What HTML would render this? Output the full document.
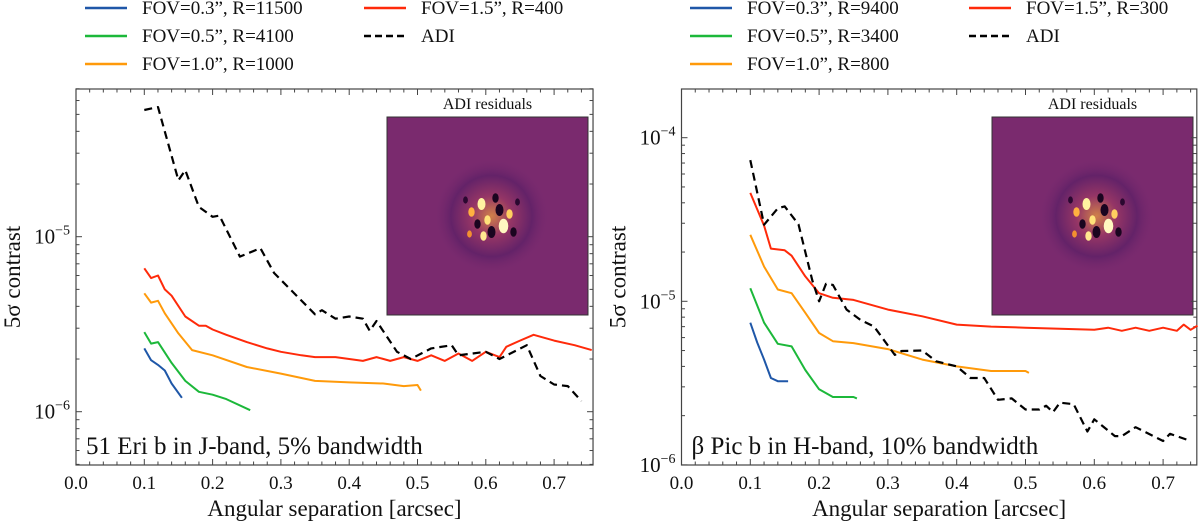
<!DOCTYPE html>
<html><head><meta charset="utf-8">
<style>
html,body{margin:0;padding:0;background:#fff;}
svg, svg text{font-family:"Liberation Serif","DejaVu Serif",serif;}
</style></head>
<body>
<svg id="fig" width="1200" height="523" viewBox="0 0 1200 523" xmlns="http://www.w3.org/2000/svg" font-family="Liberation Serif, DejaVu Serif, serif">
<defs>
<radialGradient id="glow" cx="50%" cy="50%" r="50%">
<stop offset="0%" stop-color="#f4a53a"/>
<stop offset="35%" stop-color="#a03a62"/>
<stop offset="70%" stop-color="#5a1f66"/>
<stop offset="100%" stop-color="#7a2a6e" stop-opacity="0"/>
</radialGradient>
</defs>
</svg>
<script>
// ---- Left panel data (51 Eri b) ----
const L_adi_x = [0.1,0.12,0.15,0.16,0.18,0.2,0.21,0.24,0.27,0.29,0.35,0.36,0.38,0.4,0.42,0.43,0.44,0.47,0.49,0.52,0.55,0.56,0.6,0.62,0.66,0.68,0.7,0.72,0.74];
const L_adi_y = [5.3e-5,5.5e-5,2.1e-5,2.4e-5,1.48e-5,1.3e-5,1.32e-5,7.7e-6,8.6e-6,6.2e-6,3.6e-6,3.8e-6,3.4e-6,3.5e-6,3.4e-6,2.9e-6,3.3e-6,2.2e-6,2.0e-6,2.3e-6,2.4e-6,2.1e-6,2.2e-6,2.0e-6,2.4e-6,1.6e-6,1.43e-6,1.4e-6,1.15e-6];
const L_red_x = [0.1,0.11,0.12,0.13,0.14,0.16,0.18,0.19,0.2,0.22,0.25,0.28,0.3,0.33,0.35,0.38,0.4,0.42,0.44,0.46,0.48,0.5,0.52,0.54,0.56,0.58,0.6,0.62,0.63,0.65,0.67,0.7,0.73,0.755];
const L_red_y = [6.6e-6,5.8e-6,6.0e-6,5.0e-6,4.6e-6,3.5e-6,3.1e-6,3.1e-6,2.95e-6,2.75e-6,2.5e-6,2.3e-6,2.2e-6,2.1e-6,2.05e-6,2.05e-6,2.0e-6,1.95e-6,2.05e-6,1.95e-6,2.05e-6,1.95e-6,2.1e-6,1.95e-6,2.15e-6,1.95e-6,2.2e-6,2.05e-6,2.35e-6,2.55e-6,2.75e-6,2.55e-6,2.4e-6,2.25e-6];
const L_org_x = [0.1,0.11,0.12,0.13,0.15,0.17,0.2,0.25,0.3,0.35,0.4,0.45,0.48,0.5,0.505];
const L_org_y = [4.75e-6,4.2e-6,4.3e-6,3.65e-6,2.8e-6,2.25e-6,2.1e-6,1.8e-6,1.65e-6,1.5e-6,1.47e-6,1.45e-6,1.4e-6,1.42e-6,1.32e-6];
const L_grn_x = [0.1,0.11,0.12,0.14,0.16,0.18,0.2,0.22,0.255];
const L_grn_y = [2.85e-6,2.45e-6,2.5e-6,1.9e-6,1.5e-6,1.3e-6,1.25e-6,1.18e-6,1.02e-6];
const L_blu_x = [0.1,0.11,0.12,0.13,0.14,0.155];
const L_blu_y = [2.3e-6,1.97e-6,1.85e-6,1.72e-6,1.45e-6,1.2e-6];
// ---- Right panel data (beta Pic b) ----
const R_adi_x = [0.1,0.12,0.14,0.15,0.17,0.19,0.2,0.21,0.22,0.24,0.26,0.28,0.31,0.32,0.35,0.37,0.4,0.42,0.44,0.46,0.48,0.5,0.52,0.53,0.54,0.55,0.57,0.59,0.6,0.63,0.64,0.66,0.7,0.71,0.74];
const R_adi_y = [7.3e-5,2.94e-5,3.7e-5,3.8e-5,2.95e-5,1.35e-5,1.0e-5,1.28e-5,1.26e-5,8.9e-6,7.7e-6,7.0e-6,4.7e-6,4.97e-6,5.0e-6,4.3e-6,4.0e-6,3.4e-6,3.4e-6,2.5e-6,2.55e-6,2.18e-6,2.18e-6,2.3e-6,2.1e-6,2.4e-6,2.35e-6,1.6e-6,1.9e-6,1.5e-6,1.5e-6,1.7e-6,1.4e-6,1.55e-6,1.4e-6];
const R_red_x = [0.1,0.12,0.13,0.15,0.16,0.18,0.2,0.22,0.25,0.3,0.35,0.4,0.45,0.5,0.55,0.6,0.62,0.64,0.66,0.68,0.7,0.72,0.73,0.74,0.75];
const R_red_y = [4.6e-5,2.9e-5,2.1e-5,2.05e-5,1.9e-5,1.42e-5,1.12e-5,1.05e-5,1.02e-5,8.9e-6,8.1e-6,7.2e-6,7.0e-6,6.9e-6,6.8e-6,6.7e-6,6.9e-6,6.6e-6,6.9e-6,6.6e-6,6.9e-6,6.6e-6,7.2e-6,6.7e-6,7.1e-6];
const R_org_x = [0.1,0.12,0.14,0.16,0.18,0.2,0.22,0.25,0.3,0.35,0.4,0.45,0.5,0.505];
const R_org_y = [2.55e-5,1.63e-5,1.18e-5,1.12e-5,8.5e-6,6.4e-6,5.7e-6,5.55e-6,5.1e-6,4.4e-6,4.0e-6,3.75e-6,3.75e-6,3.65e-6];
const R_grn_x = [0.1,0.12,0.14,0.16,0.18,0.2,0.22,0.25,0.255];
const R_grn_y = [1.2e-5,7.4e-6,5.5e-6,5.3e-6,3.8e-6,2.9e-6,2.6e-6,2.6e-6,2.55e-6];
const R_blu_x = [0.1,0.11,0.12,0.13,0.14,0.155];
const R_blu_y = [7.4e-6,5.6e-6,4.4e-6,3.4e-6,3.25e-6,3.25e-6];
const xTicks = [0.0,0.1,0.2,0.3,0.4,0.5,0.6,0.7];
const L_legend = ['FOV=0.3\u201d, R=11500','FOV=0.5\u201d, R=4100','FOV=1.0\u201d, R=1000','FOV=1.5\u201d, R=400','ADI'];
const R_legend = ['FOV=0.3\u201d, R=9400','FOV=0.5\u201d, R=3400','FOV=1.0\u201d, R=800','FOV=1.5\u201d, R=300','ADI'];

const NS='http://www.w3.org/2000/svg';
const FF='Liberation Serif, DejaVu Serif, serif';
const svg=document.getElementById('fig');
const COLORS=['#1f57a8','#1cb83a','#ff9a0a','#ff2a0a','#000'];
function mk(tag,attrs,parent){const e=document.createElementNS(NS,tag);for(const k in attrs)e.setAttribute(k,attrs[k]);if(tag==='text')e.setAttribute('font-family',FF);(parent||svg).appendChild(e);return e;}

function panel(p){
  const g=mk('g',{});
  
  
  const X=v=>p.x0+v*p.xs;
  const Y=v=>p.yRef-(Math.log10(v)-p.logRef)*p.dec;
  const lx=[p.legX,p.legX+279];
  const ly=[13,41,69];
  p.legend.forEach((t,i)=>{
    const col=i<3?0:1,row=i<3?i:i-3;
    const ln=mk('line',{x1:lx[col],x2:lx[col]+42,y1:ly[row]-5,y2:ly[row]-5,stroke:COLORS[i],'stroke-width':2.5,'stroke-dasharray':i===4?'7,4':'none'},g);
    
    
    const tx=mk('text',{x:lx[col]+57,y:ly[row]+1,'font-size':19,fill:'#111'},g);
    tx.textContent=t;
    
    
  });
  const ig=mk('g',{},g);
  
  
  const it=mk('text',{x:p.inset[0]+p.inset[2]/2,y:p.inset[1]-8,'font-size':16,'text-anchor':'middle',fill:'#111'},ig);
  it.textContent='ADI residuals';
  
  
  mk('rect',{x:p.inset[0],y:p.inset[1],width:p.inset[2],height:p.inset[3],fill:'#7a2a6e',stroke:'#333','stroke-width':1},ig);
  const cx=p.inset[0]+p.inset[2]/2+4,cy=p.inset[1]+p.inset[3]/2;
  mk('circle',{cx:cx,cy:cy,r:58,fill:'url(#glow)',opacity:0.7},ig);
  const spots=[[-10,-12,5,'#fff3a0'],[8,-6,5,'#1a0520'],[-4,4,4,'#ffe27a'],[12,10,6,'#fff8c0'],[-14,8,4,'#1a0520'],[4,-18,4,'#1a0520'],[18,-2,4,'#ffd060'],[-20,-4,4,'#ffb040'],[0,16,5,'#1a0520'],[-8,20,4,'#ffe890'],[22,16,4,'#1a0520'],[-22,18,3,'#f39030'],[-26,-16,3,'#2a0830'],[26,-14,3,'#2a0830']];
  spots.forEach(s=>mk('ellipse',{cx:cx+s[0],cy:cy+s[1],rx:s[2]*0.8,ry:s[2]*1.2,fill:s[3]},ig));
  const x1=X(p.xmax),y0=p.yTop,y1=p.yBot;
  const ax=mk('rect',{x:p.x0,y:y0,width:x1-p.x0,height:y1-y0,fill:'none',stroke:'#444','stroke-width':1.2},g);
  
  
  for(let v=0;v<=p.xmax+1e-9;v+=0.02){
    const maj=Math.abs(v*10-Math.round(v*10))<1e-6,len=maj?6:3.5;
    mk('line',{x1:X(v),x2:X(v),y1:y1,y2:y1-len,stroke:'#444','stroke-width':1},g);
    mk('line',{x1:X(v),x2:X(v),y1:y0,y2:y0+len,stroke:'#444','stroke-width':1},g);
  }
  xTicks.forEach(v=>{
    const t=mk('text',{x:X(v),y:y1+24,'font-size':19,'text-anchor':'middle',fill:'#111'},g);
    t.textContent=v.toFixed(1);
    
    
  });
  for(let e=-7;e<=-3;e++){for(let m=1;m<10;m++){
    const v=m*Math.pow(10,e),yy=Y(v);
    if(yy<y0-0.5||yy>y1+0.5)continue;
    const len=m===1?6:3.5;
    mk('line',{x1:p.x0,x2:p.x0+len,y1:yy,y2:yy,stroke:'#444','stroke-width':1},g);
    mk('line',{x1:x1,x2:x1-len,y1:yy,y2:yy,stroke:'#444','stroke-width':1},g);
    if(m===1){
      const t=mk('text',{x:p.x0-6,y:yy+7,'font-size':21,'text-anchor':'end',fill:'#111'},g);
      
      
      const a=mk('tspan',{},t);a.textContent='10';
      const b=mk('tspan',{dy:-9,'font-size':14},t);b.textContent='\u2212'+(-e);
    }
  }}
  const xt=mk('text',{x:(p.x0+x1)/2,y:516,'font-size':23,'text-anchor':'middle',fill:'#111'},g);
  xt.textContent='Angular separation [arcsec]';
  
  
  const yt=mk('text',{x:0,y:0,'font-size':23,'text-anchor':'middle',fill:'#111',transform:`translate(${p.x0-56},${(y0+y1)/2}) rotate(-90)`},g);
  yt.textContent='5\u03c3 contrast';
  
  
  const an=mk('text',{x:p.x0+10,y:454,'font-size':25,fill:'#111'},g);
  an.textContent=p.note;
  
  
  p.series.forEach((s,i)=>{
    const d=s.x.map((v,k)=>(k?'L':'M')+X(v).toFixed(1)+','+Y(s.y[k]).toFixed(1)).join(' ');
    const pa=mk('path',{d:d,fill:'none',stroke:COLORS[s.c],'stroke-width':s.c===4?2.2:2,'stroke-dasharray':s.c===4?'8,5':'none','stroke-linejoin':'round'},g);
    
    
  });
}

panel({name:'left-panel-51-eri-b',x0:76,xs:683,xmax:0.757,yTop:89,yBot:465,yRef:236.7,logRef:-5,dec:175,legX:85,
  legend:L_legend,inset:[387,117,201,198],note:'51 Eri b in J-band, 5% bandwidth',
  series:[{x:L_blu_x,y:L_blu_y,c:0,n:'line-fov-0.3'},{x:L_grn_x,y:L_grn_y,c:1,n:'line-fov-0.5'},{x:L_org_x,y:L_org_y,c:2,n:'line-fov-1.0'},{x:L_red_x,y:L_red_y,c:3,n:'line-fov-1.5'},{x:L_adi_x,y:L_adi_y,c:4,n:'line-adi'}]});
panel({name:'right-panel-beta-pic-b',x0:681.5,xs:688,xmax:0.749,yTop:89,yBot:465,yRef:137.7,logRef:-4,dec:163.6,legX:690,
  legend:R_legend,inset:[992,117,201,198],note:'\u03b2 Pic b in H-band, 10% bandwidth',
  series:[{x:R_blu_x,y:R_blu_y,c:0,n:'line-fov-0.3'},{x:R_grn_x,y:R_grn_y,c:1,n:'line-fov-0.5'},{x:R_org_x,y:R_org_y,c:2,n:'line-fov-1.0'},{x:R_red_x,y:R_red_y,c:3,n:'line-fov-1.5'},{x:R_adi_x,y:R_adi_y,c:4,n:'line-adi'}]});
</script>
</body></html>
